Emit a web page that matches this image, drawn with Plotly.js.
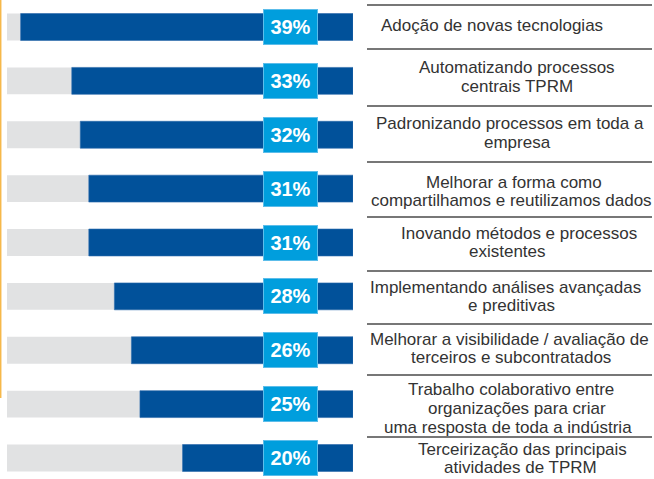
<!DOCTYPE html>
<html>
<head>
<meta charset="utf-8">
<script src="https://cdn.plot.ly/plotly-3.0.1.min.js"></script>
<style>html,body{margin:0;padding:0;background:#fff;}#chart{width:654px;height:479px;}</style>
</head>
<body>
<div id="chart"></div>
<script>
const categories = [
  "Adoção de novas tecnologias",
  "Automatizando processos<br>centrais TPRM",
  "Padronizando processos em toda a<br>empresa",
  "Melhorar a forma como<br>compartilhamos e reutilizamos dados",
  "Inovando métodos e processos<br>existentes",
  "Implementando análises avançadas<br>e preditivas",
  "Melhorar a visibilidade / avaliação de<br>terceiros e subcontratados",
  "Trabalho colaborativo entre<br>organizações para criar<br>uma resposta de toda a indústria",
  "Terceirização das principais<br>atividades de TPRM"
];
const values = [39, 33, 32, 31, 31, 28, 26, 25, 20];
const valueLabels = ["39%", "33%", "32%", "31%", "31%", "28%", "26%", "25%", "20%"];
const scaleMax = 40.6;

// layout helpers (pixel positions -> paper coords)
const W = 654, H = 479, L = 7, R = 353;
const px2x = p => (p - L) / (R - L);
const px2y = p => 1 - p / H;
// per-line text centres (px) for the label column
const lineCenterX = [[492], [517, 517], [510, 517], [514, 511], [519, 507], [505, 511], [509, 511], [511, 517, 508], [522, 520]];
const lineCenterY = [[25], [68, 86], [124, 142], [182, 200], [233, 251], [287, 305], [339, 357], [389, 408, 427], [449, 467]];
const sepLinesPx = [5, 49, 106, 162, 217, 271, 324, 375, 437];

const idx = categories.map((_, i) => i);

const traces = [
  {
    type: 'bar', orientation: 'h',
    x: values.map(() => scaleMax), y: idx, width: 0.5,
    marker: {color: '#E1E2E3'}, hoverinfo: 'skip', showlegend: false
  },
  {
    type: 'bar', orientation: 'h',
    x: values, y: idx, width: 0.5,
    marker: {color: '#01519A', line: {color: '#2F6DAE', width: 0.6}},
    showlegend: false
  }
];

const annotations = [];
idx.forEach(i => {
  annotations.push({
    xref: 'paper', yref: 'y', x: px2x(290.5), y: i,
    xanchor: 'center', yanchor: 'middle',
    text: '<b>' + valueLabels[i] + '</b>', showarrow: false,
    width: 53, height: 34, borderpad: 0, borderwidth: 1,
    bgcolor: '#009EDD', bordercolor: '#5CBDEA',
    font: {family: 'Liberation Sans, Arial, sans-serif', size: 20, color: '#ffffff'}
  });
  categories[i].split('<br>').forEach((line, j) => {
    annotations.push({
      xref: 'paper', yref: 'paper',
      x: px2x(lineCenterX[i][j]), y: px2y(lineCenterY[i][j]),
      xanchor: 'center', yanchor: 'middle', align: 'center',
      text: line, showarrow: false,
      font: {family: 'Liberation Sans, Arial, sans-serif', size: 17, color: '#333333'}
    });
  });
});

const shapes = sepLinesPx.map(p => ({
  type: 'line', xref: 'paper', yref: 'paper',
  x0: px2x(367), x1: px2x(652), y0: px2y(p), y1: px2y(p),
  line: {color: '#4a4a4a', width: 1.3}
}));
shapes.push({
  type: 'line', xref: 'paper', yref: 'paper',
  x0: px2x(0.7), x1: px2x(0.7), y0: 1, y1: px2y(398),
  line: {color: '#F6B84A', width: 1.5}
});

const unit = 53.875;
const r0 = -27 / unit;
const r1 = r0 + H / unit;

const layout = {
  width: W, height: H,
  margin: {l: L, r: W - R, t: 0, b: 0, pad: 0},
  paper_bgcolor: '#ffffff', plot_bgcolor: '#ffffff',
  barmode: 'overlay',
  xaxis: {range: [scaleMax, 0], showgrid: false, zeroline: false, showticklabels: false, fixedrange: true},
  yaxis: {range: [r1, r0], showgrid: false, zeroline: false, showticklabels: false, fixedrange: true},
  annotations: annotations,
  shapes: shapes,
  showlegend: false
};

Plotly.newPlot('chart', traces, layout, {displayModeBar: false, staticPlot: true});
</script>
</body>
</html>
